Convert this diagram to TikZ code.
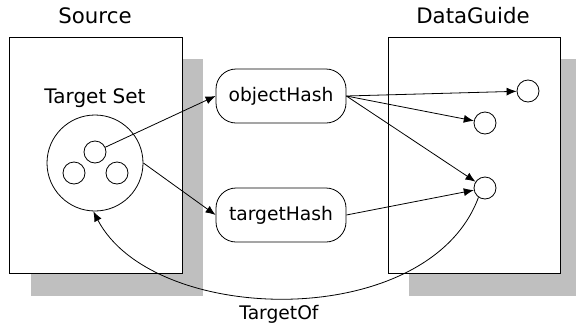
\documentclass[tikz,border=0pt]{standalone}
\usepackage{fontspec}
\setmainfont{DejaVu Sans}
\usetikzlibrary{arrows.meta}
\begin{document}
\begin{tikzpicture}[x=1pt,y=-1pt,
  lbl/.style={inner sep=0pt,font=\fontsize{18.7}{22}\selectfont},
  title/.style={inner sep=0pt,font=\fontsize{21.3}{24}\selectfont},
  panel/.style={draw=black,fill=white,line width=0.8pt},
  shadowbox/.style={fill=black!25,draw=none},
  hashbox/.style={draw,rounded corners=20pt,minimum width=130pt,minimum height=54pt,inner sep=0pt,line width=0.8pt,font=\fontsize{18.7}{22}\selectfont},
  dot/.style={draw,circle,minimum size=22pt,inner sep=0pt,line width=0.8pt},
  conn/.style={line width=0.8pt,-{Latex[length=10pt,width=8pt]}}]
\useasboundingbox (0,0) rectangle (576,327);
% shadows and panels
\fill[shadowbox] (31,59) rectangle (203,296);
\draw[panel] (9,37) rectangle (182,273);
\fill[shadowbox] (409,59) rectangle (576,296);
\draw[panel] (388,37) rectangle (560,273);
% titles
\node[title] (src) at (95,16) {Source};
\node[title] (dg) at (473,16) {DataGuide};
\node[lbl,font=\fontsize{20}{23}\selectfont] (ts) at (95,98) {Target Set};
% target set
\node[draw,circle,minimum size=96pt,inner sep=0pt,line width=0.8pt] (big) at (95,163) {};
\node[dot] (s1) at (95,152) {};
\node[dot] (s2) at (74,173) {};
\node[dot] (s3) at (117,173) {};
% hashes
\node[hashbox] (oh) at (281,96) {objectHash};
\node[hashbox] (th) at (281,215) {targetHash};
% data guide nodes
\node[dot] (c1) at (528,91) {};
\node[dot] (c2) at (485,123) {};
\node[dot] (c3) at (485,188) {};
% connectors
\draw[conn] (s1) -- (oh.west);
\draw[conn] (big.east) -- (th.west);
\draw[conn] (oh.east) -- (c1);
\draw[conn] (oh.east) -- (c2);
\draw[conn] (oh.east) -- (c3);
\draw[conn] (th.east) -- (c3);
\draw[conn] (c3.235) .. controls +(-50,135) and +(60,115) .. (big.268);
\node[lbl] (to) at (279,314) {TargetOf};
\end{tikzpicture}
\end{document}
